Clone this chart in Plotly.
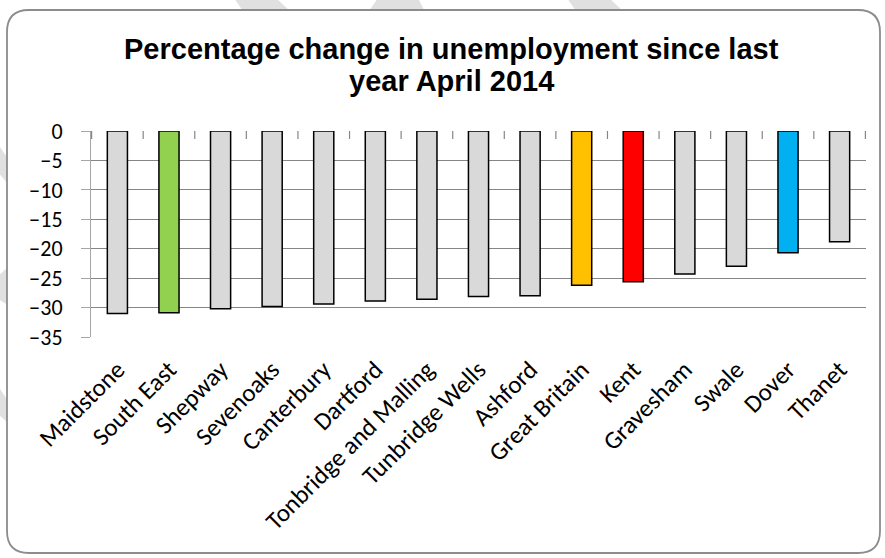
import plotly.graph_objects as go

# Data
areas = ['Maidstone', 'South East', 'Shepway', 'Sevenoaks', 'Canterbury', 'Dartford',
         'Tonbridge and Malling', 'Tunbridge Wells', 'Ashford', 'Great Britain', 'Kent',
         'Gravesham', 'Swale', 'Dover', 'Thanet']
pct_change = [-31.0, -30.9, -30.2, -29.8, -29.4, -28.9, -28.6, -28.1, -28.0,
              -26.2, -25.6, -24.3, -23.0, -20.7, -18.8]
highlight = {'South East': '#92d050', 'Great Britain': '#ffc000',
             'Kent': '#ff0000', 'Dover': '#00b0f0'}
y_ticks = [0, -5, -10, -15, -20, -25, -30, -35]
title_lines = ['Percentage change in unemployment since last', 'year April 2014']

W, H = 885, 558
L, R, T, B = 91, 19, 131, 221
pw, ph = W - L - R, H - T - B

def px(x):
    return (x - L) / pw

def py(y):
    return (H - B - y) / ph

colors = [highlight.get(a, '#d9d9d9') for a in areas]

fig = go.Figure()
fig.add_trace(go.Bar(
    x=areas, y=pct_change,
    marker=dict(color=colors, line=dict(color='black', width=1.5)),
    hoverinfo='x+y',
))

# background watermark bands + chart area frame
shapes = []
bands = [
    [(234, -2), (276, -2), (293, 14), (245, 14)],
    [(378, -2), (418, -2), (426, 14), (367, 14)],
    [(567, -2), (609, -2), (626, 14), (578, 14)],
    [(-2, 144), (8, 159), (8, 184), (-2, 172)],
    [(-2, 276), (8, 267), (8, 305), (-2, 299)],
    [(-2, 386), (8, 401), (8, 423), (-2, 414)],
]
for b in bands:
    path = 'M ' + ' L '.join(f'{px(x)},{py(y)}' for x, y in b) + ' Z'
    shapes.append(dict(type='path', xref='paper', yref='paper', path=path,
                       fillcolor='#e0e0e0', line=dict(width=0), layer='below'))

x0, y0, x1, y1, r = 7, 10, 880, 553, 22
frame = (f'M {px(x0 + r)},{py(y0)} L {px(x1 - r)},{py(y0)} '
         f'Q {px(x1)},{py(y0)} {px(x1)},{py(y0 + r)} '
         f'L {px(x1)},{py(y1 - r)} Q {px(x1)},{py(y1)} {px(x1 - r)},{py(y1)} '
         f'L {px(x0 + r)},{py(y1)} Q {px(x0)},{py(y1)} {px(x0)},{py(y1 - r)} '
         f'L {px(x0)},{py(y0 + r)} Q {px(x0)},{py(y0)} {px(x0 + r)},{py(y0)} Z')
shapes.append(dict(type='path', xref='paper', yref='paper', path=frame,
                   fillcolor='white', line=dict(color='#8c8c8c', width=1.8),
                   layer='below'))

# category axis sits at 0 (top): tick marks between categories pointing down
for i in range(len(areas) + 1):
    shapes.append(dict(type='line', xref='x', yref='paper',
                       x0=i - 0.5, x1=i - 0.5, y0=1, y1=1 - 8 / ph,
                       line=dict(color='#868686', width=1.2)))

# title, one annotation per line
annotations = []
for i, line in enumerate(title_lines):
    annotations.append(dict(
        text=f'<b>{line}</b>', showarrow=False,
        xref='paper', yref='paper', x=px(451), y=py(49 + 32 * i),
        xanchor='center', yanchor='middle',
        font=dict(family='Liberation Sans, Arial', size=29, color='black'),
    ))

fig.update_layout(
    width=W, height=H,
    margin=dict(l=L, r=R, t=T, b=B),
    paper_bgcolor='white',
    plot_bgcolor='rgba(0,0,0,0)',
    showlegend=False,
    bargap=0.61,
    xaxis=dict(
        type='category',
        tickangle=-45,
        ticks='',
        showline=False,
        showgrid=False,
        tickfont=dict(family='Carlito, Calibri, Lato', size=25, color='black'),
        ticklabelstandoff=12,
    ),
    yaxis=dict(
        range=[-35, 0],
        tickvals=y_ticks,
        showgrid=True, gridcolor='#868686', gridwidth=1,
        zeroline=False,
        showline=True, linecolor='#a6a6a6', linewidth=1,
        ticks='outside', ticklen=9, tickcolor='#a6a6a6',
        tickfont=dict(family='Carlito, Calibri, Lato', size=22, color='black'),
        ticklabelstandoff=14,
    ),
    shapes=shapes,
    annotations=annotations,
)

fig.write_html('out.html', config={'displayModeBar': False},
               post_script="document.body.style.margin='0';")
